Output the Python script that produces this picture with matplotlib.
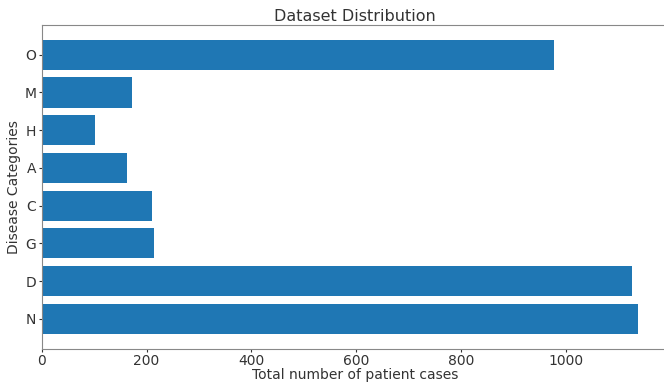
import matplotlib
matplotlib.use("Agg")
import matplotlib.pyplot as plt

# Patient cases per disease category
categories = ["N", "D", "G", "C", "A", "H", "M", "O"]
cases = [1138, 1126, 214, 211, 163, 102, 173, 977]

fig = plt.figure(figsize=(6.64, 3.83), dpi=100)
ax = fig.add_axes([41.7 / 664, 1 - 348.5 / 383, (668 - 41.7) / 664, (348.5 - 25) / 383])

ax.barh(categories, cases, color="#1f77b4")
ax.set_title("Dataset Distribution", fontsize=11.5, color="#333333", pad=3)
ax.set_xlabel("Total number of patient cases", fontsize=10, color="#333333", labelpad=0)
ax.set_ylabel("Disease Categories", fontsize=10, color="#333333", labelpad=2)
ax.tick_params(labelsize=10, colors="#333333", length=2.5, pad=1.5)
for s in ax.spines.values():
    s.set_color("#888888")

fig.savefig("out.png", dpi=100)
